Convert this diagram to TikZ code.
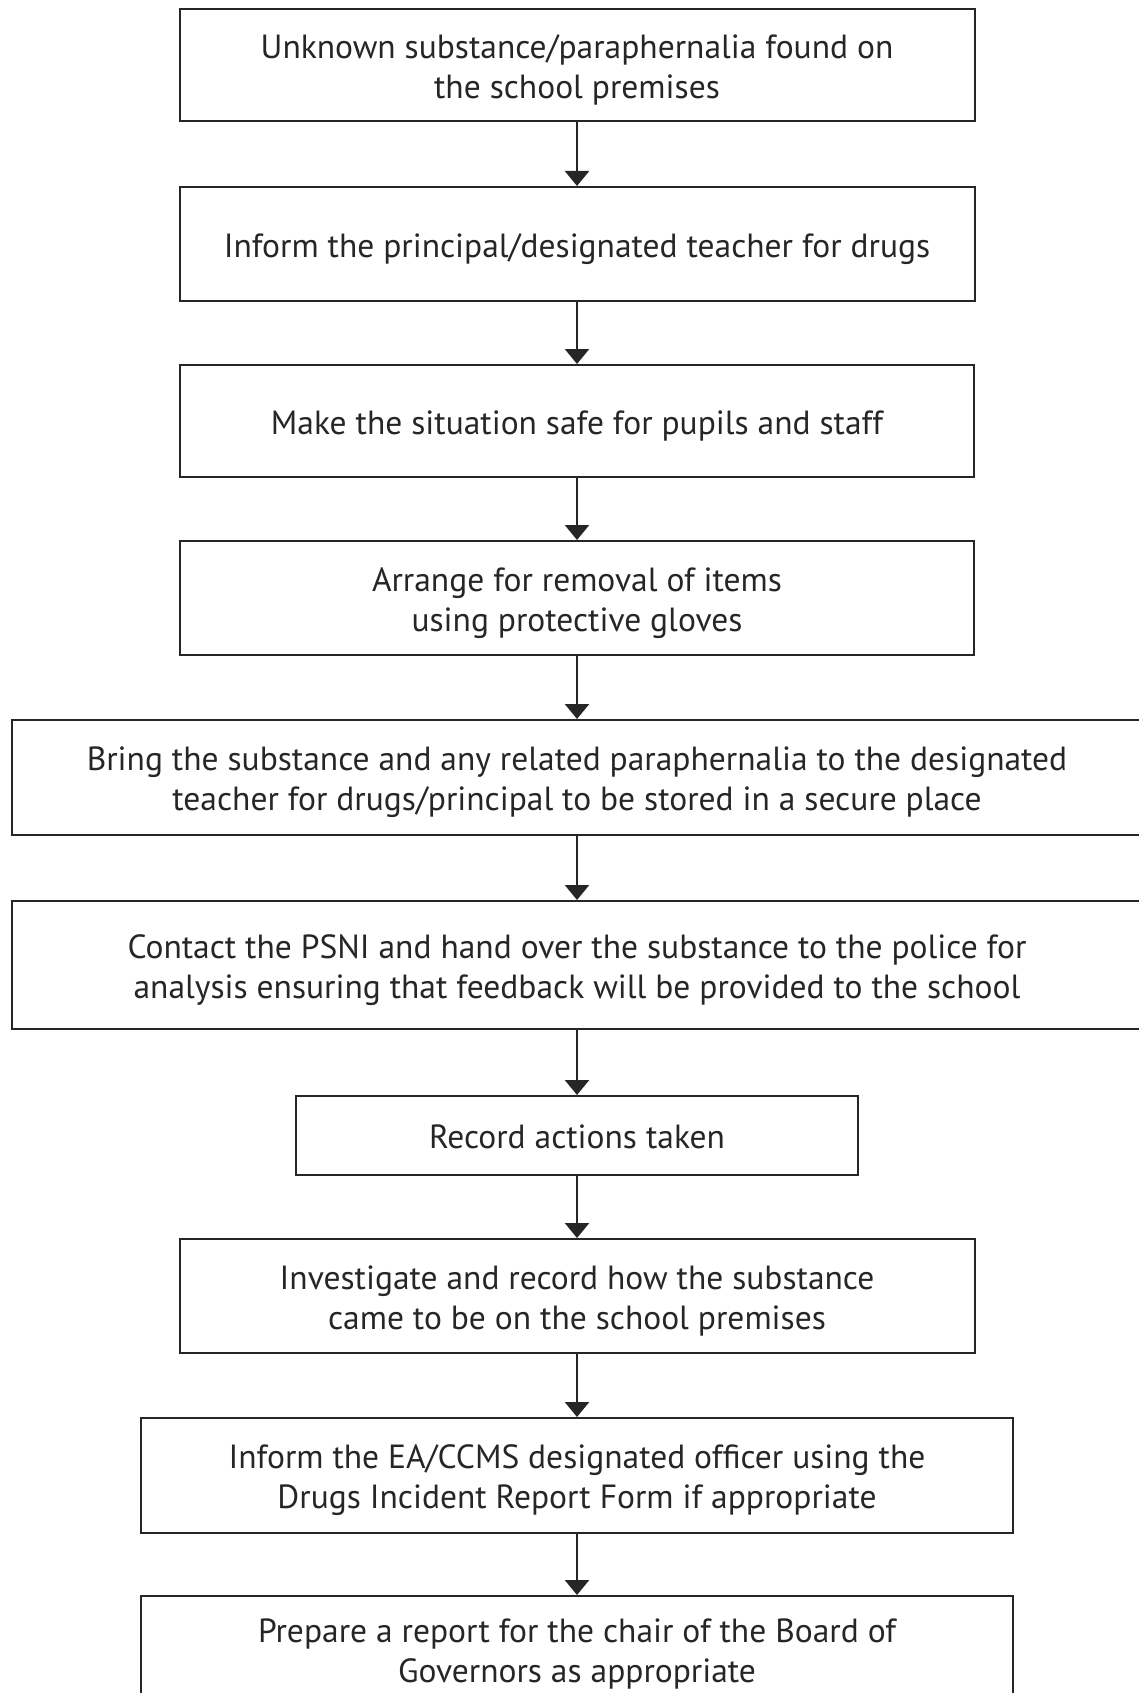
\documentclass[tikz,border=0pt]{standalone}
\usepackage{fontspec}
\setmainfont{PT Sans}
\usetikzlibrary{arrows.meta}
\definecolor{ink}{HTML}{262626}
\tikzset{
  stepbox/.style={draw=ink, line width=2pt, inner sep=0pt},
  steptext/.style={inner sep=0pt, align=center, text=ink,
    font=\fontsize{33.5}{40}\selectfont},
  flow/.style={draw=ink, line width=2.5pt, -{Triangle[width=24pt,length=15pt]}}
}
% a framed step: box named #1, its text placed slightly below the box centre
\newcommand{\flowstep}[6][-5pt]{%
  \node[stepbox, minimum width=#4, minimum height=#5] (#2) at (#3) {};
  \node[steptext] (#2t) at ([yshift=#1]#2.center) {#6};
}
\begin{document}
\begin{tikzpicture}[x=1pt,y=-1pt]
  \useasboundingbox (0,0) rectangle (1139,1693);
  \clip (0,0) rectangle (1139,1693);
  \fill[white] (0,0) rectangle (1139,1693);

  \flowstep{b1}{577,65}{795pt}{112pt}
    {Unknown substance/paraphernalia found on\\the school premises}
  \flowstep{b2}{577,244}{795pt}{114pt}
    {Inform the principal/designated teacher for drugs}
  \flowstep{b3}{577,421}{794pt}{112pt}
    {Make the situation safe for pupils and staff}
  \flowstep{b4}{577,598}{794pt}{114pt}
    {Arrange for removal of items\\using protective gloves}
  \flowstep{b5}{577,777.5}{1131pt}{115pt}
    {Bring the substance and any related paraphernalia to the designated\\teacher for drugs/principal to be stored in a secure place}
  \flowstep{b6}{577,965}{1131pt}{128pt}
    {Contact the PSNI and hand over the substance to the police for\\analysis ensuring that feedback will be provided to the school}
  \flowstep[-1.5pt]{b7}{577,1135.5}{562pt}{79pt}
    {Record actions taken}
  \flowstep{b8}{577,1296}{795pt}{114pt}
    {Investigate and record how the substance\\came to be on the school premises}
  \flowstep{b9}{577,1475.5}{872pt}{115pt}
    {Inform the EA/CCMS designated officer using the\\Drugs Incident Report Form if appropriate}
  \flowstep{b10}{577,1648.5}{872pt}{105pt}
    {Prepare a report for the chair of the Board of\\Governors as appropriate}

  \foreach \a/\b in {b1/b2,b2/b3,b3/b4,b4/b5,b5/b6,b6/b7,b7/b8,b8/b9,b9/b10}
    \draw[flow] (\a.south) -- (\b.north);
\end{tikzpicture}
\end{document}
